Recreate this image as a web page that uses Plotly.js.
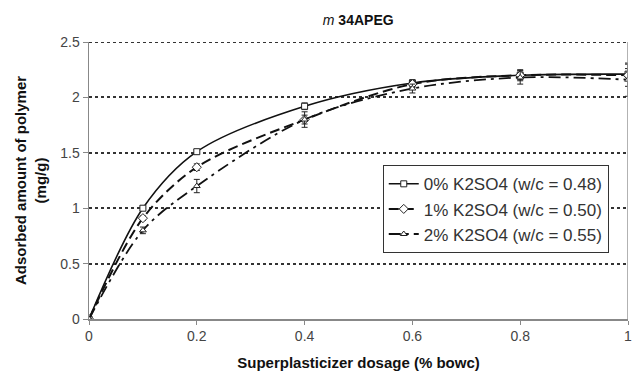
<!DOCTYPE html>
<html><head><meta charset="utf-8">
<script src="https://cdn.plot.ly/plotly-3.0.1.min.js"></script>
<style>body{margin:0;background:#fff}#c{width:634px;height:383px}</style>
</head><body><div id="c"></div>
<script>
const dosage = [0, 0.1, 0.2, 0.4, 0.6, 0.8, 1.0];
const k0 = [0, 1.00, 1.51, 1.92, 2.13, 2.20, 2.21];
const k1 = [0, 0.91, 1.37, 1.80, 2.12, 2.20, 2.20];
const k2 = [0, 0.80, 1.20, 1.80, 2.08, 2.18, 2.16];
const err0 = [0, 0.02, 0.02, 0.03, 0.03, 0.04, 0.05];
const err1 = [0, 0.02, 0.03, 0.04, 0.03, 0.05, 0.10];
const err2 = [0, 0.03, 0.06, 0.07, 0.04, 0.06, 0.15];
const names = ['0% K2SO4 (w/c = 0.48)', '1% K2SO4 (w/c = 0.50)', '2% K2SO4 (w/c = 0.55)'];
const xTicks = [0, 0.2, 0.4, 0.6, 0.8, 1];
const yTicks = [0, 0.5, 1, 1.5, 2, 2.5];

function tr(y, err, name, dash, sym, w, sz) {
  return {x: dosage, y: y, name: name, type: 'scatter', mode: 'lines+markers',
    line: {color: '#111', width: w, dash: dash, shape: 'spline', smoothing: 0.9},
    marker: {symbol: sym, size: sz, color: '#fff', line: {color: '#222', width: 1}},
    error_y: {type: 'data', array: err, visible: true, color: '#222', thickness: 1, width: 3}};
}
const data = [
  tr(k0, err0, names[0], 'solid', 'square', 1.6, 6),
  tr(k1, err1, names[1], '10px,5px', 'diamond', 2, 7),
  tr(k2, err2, names[2], '12px,5px,3px,5px', 'triangle-up', 1.8, 6)
];
const layout = {
  width: 634, height: 383,
  margin: {l: 89, r: 6, t: 42, b: 64},
  paper_bgcolor: '#fff', plot_bgcolor: '#fff',
  font: {family: 'Liberation Sans, Arial, sans-serif', size: 14, color: '#444'},
  showlegend: true,
  title: {text: '<i>m</i> <b>34APEG</b>', x: 0.565, xanchor: 'center', y: 0.948, yanchor: 'middle',
    font: {size: 14, color: '#111', family: 'Liberation Sans, Arial, sans-serif'}},
  legend: {x: 0.545, y: 0.555, xanchor: 'left', yanchor: 'top', bgcolor: '#fff',
    bordercolor: '#333', borderwidth: 1, font: {size: 17, color: '#333'}, tracegroupgap: 0},
  xaxis: {range: [0, 1], tickvals: xTicks, ticktext: xTicks.map(String),
    showgrid: false, zeroline: false, showline: true, linecolor: '#888', linewidth: 1.5,
    ticks: 'outside', ticklen: 4, tickcolor: '#888', mirror: false, ticklabeloverflow: 'allow',
    title: {text: '<b>Superplasticizer dosage (% bowc)</b>', standoff: 14, font: {size: 15, color: '#111'}}},
  yaxis: {range: [0, 2.5], tickvals: yTicks, ticktext: yTicks.map(String),
    showgrid: true, gridcolor: '#333', griddash: 'dot', gridwidth: 2,
    zeroline: false, showline: true, linecolor: '#888', linewidth: 1.5,
    ticks: 'outside', ticklen: 5, tickcolor: '#888', ticklabeloverflow: 'allow',
    title: {text: '<b>Adsorbed amount of polymer<br>(mg/g)</b>', standoff: 10, font: {size: 15, color: '#111'}}},
  shapes: [
    {type: 'line', xref: 'x', yref: 'paper', x0: 1, x1: 1, y0: 0, y1: 1, line: {color: '#999', width: 1.5}},
    {type: 'line', xref: 'paper', yref: 'y', x0: 0, x1: 1, y0: 2.5, y1: 2.5, line: {color: '#333', width: 2, dash: 'dot'}}
  ]
};
Plotly.newPlot('c', data, layout, {staticPlot: true});
</script></body></html>
